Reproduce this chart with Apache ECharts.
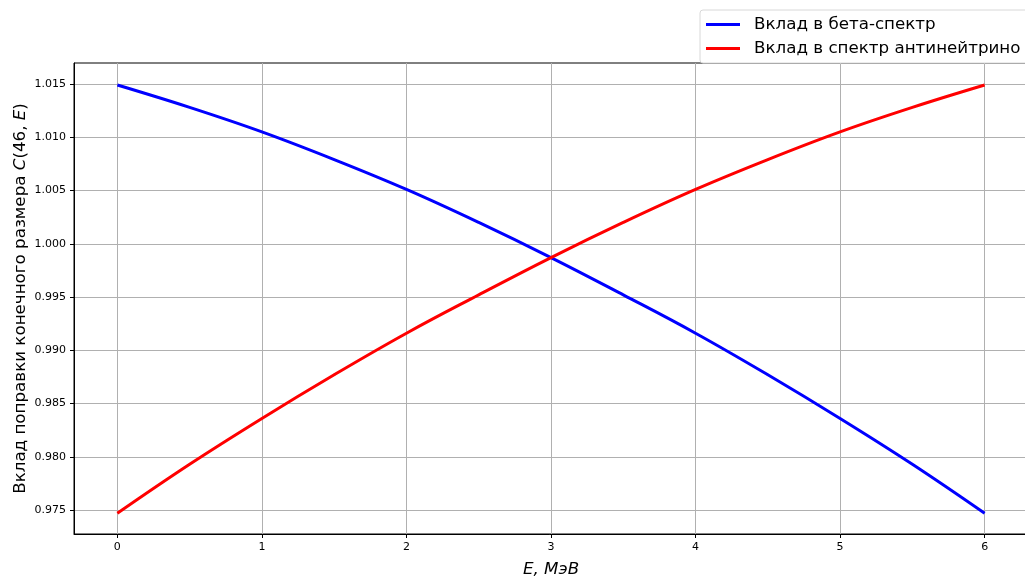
<!DOCTYPE html>
<html><head><meta charset="utf-8">
<script src="https://cdn.jsdelivr.net/npm/echarts@6/dist/echarts.min.js"></script>
<style>html,body{margin:0;padding:0;background:#fff}#c{width:1025px;height:578px}</style>
</head><body><div id="c"></div>
<script>
const energies = [0, 0.5, 1, 1.5, 2, 2.5, 3, 3.5, 4, 4.5, 5, 5.5, 6];
const betaValues = [1.0149, 1.0128, 1.0105, 1.0079, 1.0051, 1.0020, 0.9987, 0.9952, 0.9916, 0.9877, 0.9836, 0.9793, 0.9747];
const antiValues = [0.9747, 0.9793, 0.9836, 0.9877, 0.9916, 0.9952, 0.9987, 1.0020, 1.0051, 1.0079, 1.0105, 1.0128, 1.0149];
const xTicks = [0, 1, 2, 3, 4, 5, 6];
const yTicks = [0.975, 0.980, 0.985, 0.990, 0.995, 1.000, 1.005, 1.010, 1.015];
const seriesNames = ['Вклад в бета-спектр', 'Вклад в спектр антинейтрино'];

const font = 'DejaVu Sans';
const chart = echarts.init(document.getElementById('c'), null, {renderer: 'canvas'});
chart.setOption({
  animation: false,
  textStyle: {fontFamily: font},
  grid: {left: 74, width: 954, top: 63, bottom: 44, show: true, borderColor: '#000', borderWidth: 1, containLabel: false, outerBoundsMode: 'none'},
  legend: {
    orient: 'vertical', left: 700, top: 10,
    data: seriesNames,
    icon: 'rect', itemWidth: 34, itemHeight: 3, itemGap: 7,
    textStyle: {fontSize: 16.7, color: '#000', fontFamily: font, padding: [0, 0, 0, 9]},
    backgroundColor: '#fff', borderColor: '#d8d8d8', borderWidth: 1, borderRadius: 3,
    padding: [6, 10, 6, 6]
  },
  xAxis: {
    type: 'value', min: -0.3, max: 6.3,
    name: '{i|E, МэВ}', nameLocation: 'middle', nameGap: 27, nameMoveOverlap: false,
    nameTextStyle: {rich: {i: {fontStyle: 'italic', fontSize: 16.7, fontFamily: font, color: '#000'}}},
    axisLine: {show: true, onZero: false, lineStyle: {color: '#000'}},
    axisTick: {show: true, inside: false, length: 4, customValues: xTicks, lineStyle: {color: '#000'}},
    axisLabel: {customValues: xTicks, color: '#000', fontSize: 11, margin: 8, formatter: v => String(v)},
    splitLine: {show: true, lineStyle: {color: '#b0b0b0', width: 1}}
  },
  yAxis: {
    type: 'value', min: 0.97275, max: 1.01697,
    name: '{n|Вклад поправки конечного размера }{i|C}{n|(46, }{i|E}{n|)}', nameLocation: 'middle', nameGap: 45, nameRotate: 90, nameMoveOverlap: false,
    nameTextStyle: {rich: {
      n: {fontSize: 16.7, fontFamily: font, color: '#000'},
      i: {fontSize: 16.7, fontFamily: font, color: '#000', fontStyle: 'italic'}
    }},
    axisLine: {show: true, onZero: false, lineStyle: {color: '#000'}},
    axisTick: {show: true, inside: false, length: 4, customValues: yTicks, lineStyle: {color: '#000'}},
    axisLabel: {customValues: yTicks, color: '#000', fontSize: 11, margin: 8, formatter: v => v.toFixed(3)},
    splitLine: {show: true, lineStyle: {color: '#b0b0b0', width: 1}}
  },
  series: [
    {name: seriesNames[0], type: 'line', data: energies.map((e, i) => [e, betaValues[i]]), smooth: 0.4, showSymbol: false, symbol: 'none', lineStyle: {color: '#0000ff', width: 3}, itemStyle: {color: '#0000ff'}},
    {name: seriesNames[1], type: 'line', data: energies.map((e, i) => [e, antiValues[i]]), smooth: 0.4, showSymbol: false, symbol: 'none', lineStyle: {color: '#ff0000', width: 3}, itemStyle: {color: '#ff0000'}}
  ]
});
</script></body></html>
